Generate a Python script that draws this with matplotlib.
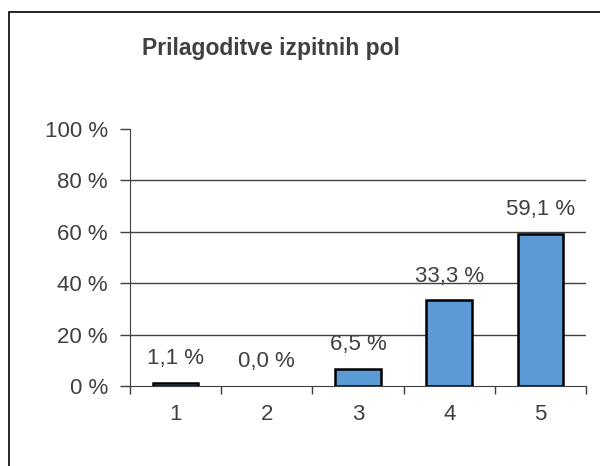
import matplotlib
matplotlib.use('Agg')
import matplotlib.pyplot as plt
from matplotlib.patches import Rectangle

plt.rcParams['font.family'] = ['Liberation Sans', 'DejaVu Sans']

categories = ['1', '2', '3', '4', '5']
values = [1.1, 0.0, 6.5, 33.3, 59.1]
labels = ['1,1 %', '0,0 %', '6,5 %', '33,3 %', '59,1 %']
yticks = [0, 20, 40, 60, 80, 100]

fig = plt.figure(figsize=(6, 4.66), dpi=100)
fig.patches.append(Rectangle((9/600, -0.1), 1.2, 1.1 - 12/466, transform=fig.transFigure,
                             fill=False, edgecolor='black', linewidth=1.2))
ax = fig.add_axes([130/600, 1 - 386/466, 456/600, 257/466])

x = list(range(len(categories)))
edges = ['black' if v > 0 else 'none' for v in values]
ax.bar(x, values, width=0.5, color='#5B9BD5', edgecolor=edges, linewidth=1.8, zorder=3)

for xi, v, lab in zip(x, values, labels):
    ax.annotate(lab, (xi, v), xytext=(0, 10), textcoords='offset points',
                ha='center', va='bottom', fontsize=16, color='#404040')

ax.set_xlim(-0.5, len(categories) - 0.5)
ax.set_ylim(0, 100)
for g in yticks[1:-1]:
    ax.axhline(g, color='#404040', linewidth=1.0, zorder=1)

ax.set_yticks(yticks)
ax.set_yticklabels([f'{t} %' for t in yticks], fontsize=16, color='#404040')
ax.set_xticks(x)
ax.set_xticklabels(categories, fontsize=16, color='#404040')
ax.set_xticks([i - 0.5 for i in range(len(categories) + 1)], minor=True)
ax.tick_params(axis='x', which='major', length=0, pad=13)
ax.tick_params(axis='x', which='minor', length=6, width=1.0, color='#404040')
ax.tick_params(axis='y', length=7, width=1.0, color='#404040', pad=9)

for s in ['top', 'right']:
    ax.spines[s].set_visible(False)
ax.spines['left'].set_color('#404040')
ax.spines['bottom'].set_color('#404040')

fig.text(271/600, 1 - 48/466, 'Prilagoditve izpitnih pol', ha='center', va='center',
         fontsize=16.5, fontweight='bold', color='#404040')

fig.savefig('out.png', dpi=100)
